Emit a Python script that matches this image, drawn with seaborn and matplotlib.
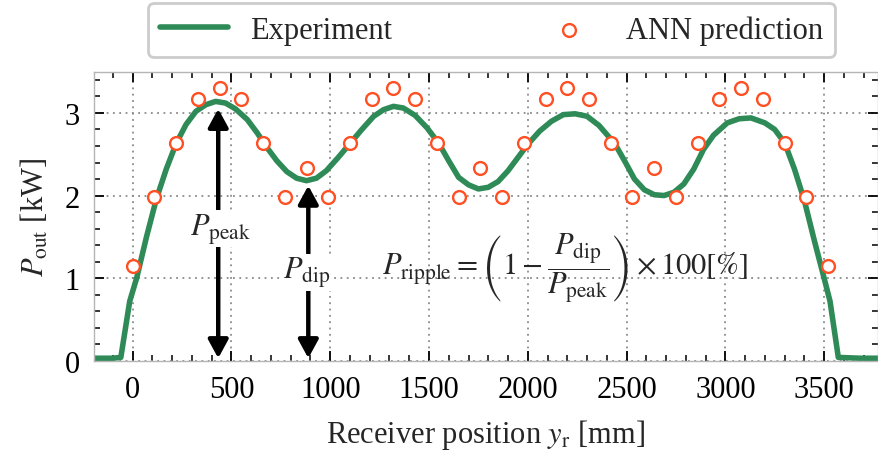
import matplotlib
matplotlib.use('Agg')
import matplotlib.pyplot as plt
import seaborn as sns
from matplotlib.ticker import MultipleLocator

# ---------------- data ----------------
exp_x = [-196, -100, -60, -15, 20, 70, 120, 170, 220, 270, 320, 370, 420, 470,
         520, 580, 630, 680, 730, 780, 830, 880, 930, 980, 1040, 1100, 1160,
         1220, 1270, 1320, 1370, 1430, 1490, 1550, 1600, 1650, 1700, 1750,
         1800, 1850, 1900, 1950, 2000, 2060, 2120, 2180, 2240, 2300, 2360,
         2440, 2490, 2540, 2590, 2640, 2690, 2740, 2790, 2840, 2890, 2940,
         3010, 3070, 3130, 3200, 3250, 3300, 3350, 3400, 3450, 3500, 3530,
         3572, 3680, 3773]
exp_y = [0.03, 0.03, 0.04, 0.72, 1.00, 1.50, 1.96, 2.32, 2.63, 2.86, 3.02, 3.10,
         3.14, 3.12, 3.05, 2.92, 2.76, 2.58, 2.42, 2.29, 2.21, 2.18, 2.21, 2.30,
         2.46, 2.63, 2.80, 2.96, 3.04, 3.08, 3.06, 2.97, 2.82, 2.63, 2.42, 2.22,
         2.13, 2.08, 2.10, 2.17, 2.30, 2.46, 2.62, 2.78, 2.90, 2.98, 2.99, 2.96,
         2.85, 2.63, 2.42, 2.20, 2.07, 2.01, 2.00, 2.04, 2.14, 2.32, 2.56, 2.73,
         2.88, 2.93, 2.94, 2.88, 2.80, 2.64, 2.32, 1.94, 1.46, 1.00, 0.72, 0.04,
         0.03, 0.03]

ann_x = [0, 110, 220, 330, 440, 550, 660, 770, 880, 990, 1100, 1210, 1320,
         1430, 1540, 1650, 1760, 1870, 1980, 2090, 2200, 2310, 2420, 2530,
         2640, 2750, 2860, 2970, 3080, 3190, 3300, 3410, 3520]
ann_y = [1.15, 1.98, 2.64, 3.17, 3.30, 3.17, 2.64, 1.98, 2.33, 1.98, 2.64,
         3.17, 3.30, 3.17, 2.64, 1.98, 2.33, 1.98, 2.64, 3.17, 3.30, 3.17,
         2.64, 1.98, 2.33, 1.98, 2.64, 3.17, 3.30, 3.17, 2.64, 1.98, 1.15]

x_major = [0, 500, 1000, 1500, 2000, 2500, 3000, 3500]
y_major = [0, 1, 2, 3]

# ---------------- style ----------------
sns.set_theme(style='ticks')
plt.rcParams['font.family'] = ['Liberation Serif', 'DejaVu Serif']
plt.rcParams['mathtext.fontset'] = 'stix'

GREEN = '#2E8B57'
ORANGE = '#FF5024'

fig = plt.figure(figsize=(8.79, 4.56), dpi=100)
ax = fig.add_axes([0.1069, 0.2068, 0.892, 0.6338])

sns.lineplot(x=exp_x, y=exp_y, ax=ax, color=GREEN, lw=4.0, sort=False,
             estimator=None, label='Experiment', zorder=2)
sns.scatterplot(x=ann_x, y=ann_y, ax=ax, marker='o', s=85, facecolor='white',
                edgecolor=ORANGE, linewidth=1.7, label='ANN prediction', zorder=4)

ax.set_xlim(-196, 3773)
ax.set_ylim(0, 3.5)
ax.set_xticks(x_major)
ax.set_yticks(y_major)
ax.xaxis.set_minor_locator(MultipleLocator(100))
ax.yaxis.set_minor_locator(MultipleLocator(0.2))

ax.grid(True, which='major', ls=(0, (1, 2.5)), color='#8a8a8a', lw=1.3)
ax.tick_params(which='both', direction='in', top=True, right=True,
               colors='black', labelsize=22, pad=10)
ax.tick_params(which='major', length=7, width=1.3)
ax.tick_params(which='minor', length=4, width=1.1)
for sp in ax.spines.values():
    sp.set_color('#b5b5b5')
    sp.set_linewidth(1.0)

ax.set_xlabel(r'Receiver position $y_{\rm r}$ [mm]', fontsize=22, labelpad=10)
ax.set_ylabel(r'$P_{\rm out}$ [kW]', fontsize=22, labelpad=10)

# arrows + annotations
arrow_kw = dict(arrowstyle='<|-|>,head_length=0.55,head_width=0.3', color='black',
                lw=3.2, mutation_scale=20, shrinkA=0, shrinkB=0)
ax.annotate('', xy=(433, 3.05), xytext=(433, 0.03), arrowprops=arrow_kw, zorder=3)
ax.annotate('', xy=(889, 2.12), xytext=(889, 0.03), arrowprops=arrow_kw, zorder=3)
ax.text(443, 1.60, r'$P_{\rm peak}$', fontsize=22, ha='center', va='center',
        bbox=dict(facecolor='white', edgecolor='none', pad=1.0), zorder=5)
ax.text(881, 1.07, r'$P_{\rm dip}$', fontsize=22, ha='center', va='center',
        bbox=dict(facecolor='white', edgecolor='none', pad=1.0), zorder=5)
ax.text(2188, 1.13,
        r'$P_{\rm ripple} = \left(1 - \dfrac{P_{\rm dip}}{P_{\rm peak}}\right) \times 100[\%]$',
        fontsize=22, ha='center', va='center', zorder=5)

leg = ax.legend(loc='lower left', bbox_to_anchor=(0.069, 1.051, 0.876, 0.2),
                mode='expand', ncol=2, borderaxespad=0, frameon=True,
                fancybox=True, framealpha=1, fontsize=22, handlelength=2.2,
                handletextpad=0.75, borderpad=0.4)
leg.get_frame().set_edgecolor('#cccccc')
leg.get_frame().set_linewidth(2.0)

fig.savefig('out.png', dpi=100)
